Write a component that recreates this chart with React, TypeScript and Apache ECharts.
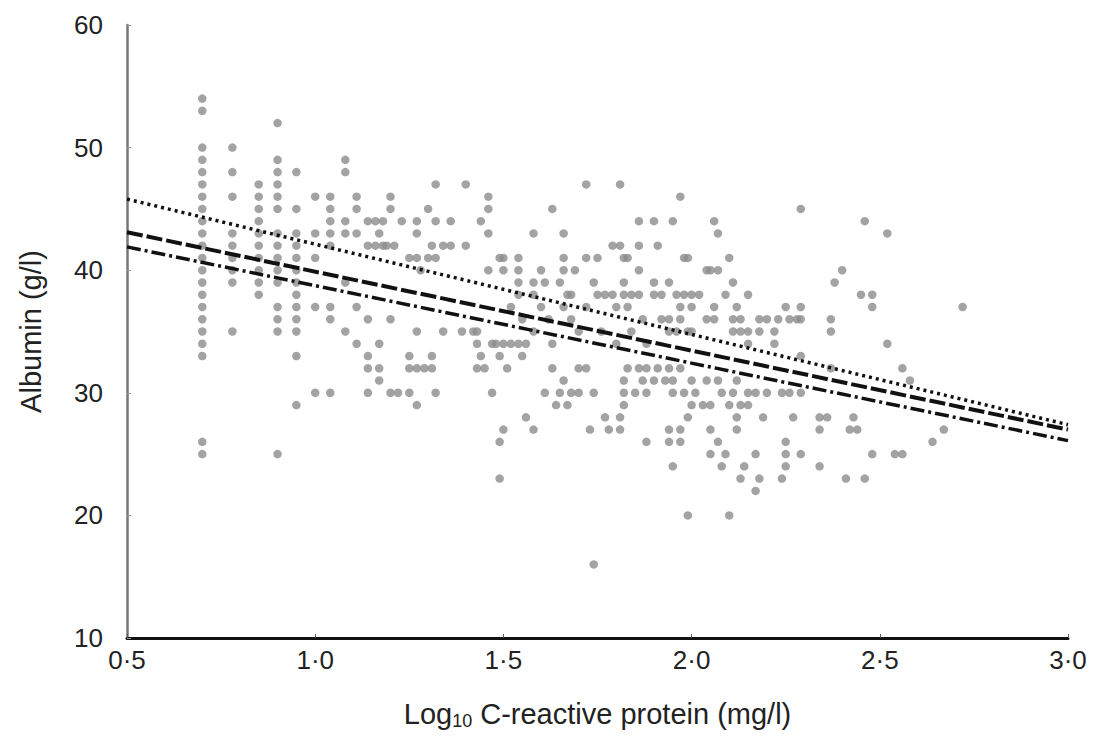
import React, { useEffect, useRef } from "react";
import * as echarts from "echarts";

// Log10 CRP values that form vertical columns at the low end
const discreteCrp = [0.7, 0.78, 0.85, 0.9, 0.95, 1.0, 1.04, 1.08];
const discreteAlbumin: number[][] = [
  [25, 26, 33, 34, 35, 36, 37, 38, 39, 40, 41, 42, 43, 44, 45, 46, 47, 48, 49, 50, 53, 54],
  [35, 39, 40, 41, 42, 43, 46, 48, 50],
  [38, 39, 40, 41, 42, 43, 44, 45, 46, 47],
  [25, 35, 36, 37, 39, 40, 41, 42, 43, 45, 46, 47, 48, 49, 52],
  [29, 33, 35, 36, 37, 38, 39, 40, 41, 42, 43, 45, 48],
  [30, 37, 41, 43, 46],
  [30, 36, 37, 42, 43, 44, 45, 46],
  [35, 39, 43, 44, 48, 49],
];

// Remaining points: [albumin, list of log10 CRP values]
const albuminRows: [number, number[]][] = [
  [47, [1.32, 1.4, 1.72, 1.81]],
  [46, [1.11, 1.2, 1.46, 1.97]],
  [45, [1.11, 1.2, 1.3, 1.46, 1.63, 2.29]],
  [44, [1.14, 1.16, 1.18, 1.23, 1.27, 1.32, 1.36, 1.44, 1.86, 1.9, 1.95, 2.06, 2.46]],
  [43, [1.11, 1.17, 1.27, 1.46, 1.58, 1.66, 2.07, 2.52]],
  [42, [1.14, 1.16, 1.18, 1.19, 1.21, 1.31, 1.34, 1.36, 1.4, 1.79, 1.81, 1.86, 1.91]],
  [41, [1.25, 1.27, 1.3, 1.32, 1.49, 1.5, 1.54, 1.66, 1.72, 1.75, 1.82, 1.83, 1.98, 1.99, 2.1]],
  [40, [1.28, 1.46, 1.5, 1.54, 1.6, 1.66, 1.69, 1.86, 2.04, 2.05, 2.07, 2.4]],
  [39, [1.54, 1.58, 1.61, 1.65, 1.74, 1.82, 1.9, 1.94, 2.11, 2.38]],
  [38, [1.54, 1.58, 1.67, 1.68, 1.75, 1.77, 1.79, 1.82, 1.84, 1.86, 1.9, 1.92, 1.96, 1.98, 2.0, 2.02, 2.09, 2.15, 2.45, 2.48]],
  [37, [1.11, 1.52, 1.6, 1.66, 1.72, 1.8, 1.83, 1.97, 2.0, 2.06, 2.12, 2.25, 2.29, 2.48, 2.72]],
  [36, [1.14, 1.2, 1.55, 1.62, 1.68, 1.87, 1.92, 1.94, 1.97, 2.04, 2.06, 2.11, 2.13, 2.18, 2.2, 2.23, 2.26, 2.28, 2.29, 2.37]],
  [35, [1.27, 1.34, 1.39, 1.42, 1.43, 1.58, 1.7, 1.76, 1.84, 1.94, 1.96, 1.99, 2.0, 2.11, 2.13, 2.15, 2.18, 2.22, 2.37]],
  [34, [1.11, 1.17, 1.43, 1.47, 1.48, 1.5, 1.52, 1.54, 1.56, 1.63, 1.8, 1.88, 2.15, 2.22, 2.52]],
  [33, [1.14, 1.25, 1.31, 1.44, 1.49, 1.55, 2.29]],
  [32, [1.14, 1.17, 1.25, 1.27, 1.29, 1.31, 1.43, 1.45, 1.51, 1.63, 1.7, 1.72, 1.83, 1.86, 1.88, 1.91, 1.94, 1.97, 2.37, 2.56]],
  [31, [1.17, 1.66, 1.82, 1.87, 1.9, 1.93, 1.95, 2.0, 2.04, 2.07, 2.12, 2.58]],
  [30, [1.14, 1.2, 1.22, 1.25, 1.32, 1.47, 1.61, 1.65, 1.68, 1.7, 1.74, 1.82, 1.85, 1.88, 1.95, 1.98, 2.01, 2.08, 2.11, 2.15, 2.17, 2.2, 2.24, 2.26, 2.29]],
  [29, [1.27, 1.64, 1.67, 1.82, 2.0, 2.03, 2.05, 2.1, 2.13, 2.15]],
  [28, [1.56, 1.77, 1.81, 1.99, 2.12, 2.19, 2.27, 2.34, 2.36, 2.43]],
  [27, [1.5, 1.58, 1.73, 1.78, 1.81, 1.94, 1.97, 2.05, 2.12, 2.34, 2.42, 2.44, 2.67]],
  [26, [1.49, 1.88, 1.94, 1.97, 2.07, 2.25, 2.64]],
  [25, [2.05, 2.09, 2.17, 2.25, 2.29, 2.48, 2.54, 2.56]],
  [24, [1.95, 2.08, 2.14, 2.25, 2.34]],
  [23, [1.49, 2.13, 2.18, 2.24, 2.41, 2.46]],
  [22, [2.17]],
  [20, [1.99, 2.1]],
  [16, [1.74]],
];

// Fitted curves (log10 CRP, albumin)
const fitDotted: [number, number][] = [[0.5, 45.8], [3.0, 27.4]];
const fitDashed: [number, number][] = [[0.5, 43.1], [3.0, 27.0]];
const fitDashDot: [number, number][] = [[0.5, 41.9], [3.0, 26.1]];

const xTicks = [0.5, 1.0, 1.5, 2.0, 2.5, 3.0];
const yTicks = [10, 20, 30, 40, 50, 60];

const FONT = "'Liberation Sans Narrow', 'Liberation Sans', Arial, sans-serif";

export default function App() {
  const ref = useRef<HTMLDivElement>(null);
  useEffect(() => {
    if (!ref.current) return;
    const chart = echarts.init(ref.current, undefined, { renderer: "svg" });
    const points: [number, number][] = [];
    discreteCrp.forEach((x, i) => discreteAlbumin[i].forEach((y) => points.push([x, y])));
    albuminRows.forEach(([y, xs]) => xs.forEach((x) => points.push([x, y])));

    const fmt = (v: number) => v.toFixed(1).replace(".", "\u00b7");

    chart.setOption({
      animation: false,
      backgroundColor: "#ffffff",
      grid: { left: 127, right: 27, top: 25, bottom: 100, containLabel: false },
      xAxis: {
        type: "value",
        min: xTicks[0],
        max: xTicks[xTicks.length - 1],
        interval: 0.5,
        splitLine: { show: false },
        axisLine: { onZero: false, lineStyle: { color: "#111", width: 3 } },
        axisTick: { inside: true, length: 4, lineStyle: { color: "#555", width: 1 } },
        axisLabel: {
          formatter: fmt,
          color: "#222",
          fontSize: 26,
          fontFamily: FONT,
          margin: 9,
        },
        name: "Log{sub|10} C-reactive protein (mg/l)",
        nameLocation: "middle",
        nameGap: 60,
        nameTextStyle: {
          color: "#222",
          fontSize: 29,
          fontFamily: FONT,
          rich: {
            sub: { fontSize: 18, fontFamily: FONT, color: "#222", verticalAlign: "bottom", padding: [14, 0, 0, 0] },
          },
        },
      },
      yAxis: {
        type: "value",
        min: yTicks[0],
        max: yTicks[yTicks.length - 1],
        interval: 10,
        splitLine: { show: false },
        axisLine: { onZero: false, lineStyle: { color: "#777", width: 2.5 } },
        axisTick: { show: true, inside: true, length: 4, lineStyle: { color: "#999", width: 1 } },
        axisLabel: { color: "#222", fontSize: 26, fontFamily: FONT, margin: 24 },
        name: "Albumin (g/l)",
        nameLocation: "middle",
        nameGap: 82,
        nameTextStyle: { color: "#222", fontSize: 29, fontFamily: FONT },
      },
      series: [
        {
          type: "scatter",
          data: points,
          symbol: "circle",
          symbolSize: 8.5,
          itemStyle: { color: "#8c8c8c" },
          z: 2,
        },
        {
          type: "line",
          data: fitDotted,
          showSymbol: false,
          lineStyle: { color: "#111", width: 3.5, type: [3, 4] },
          z: 5,
        },
        {
          type: "line",
          data: fitDashed,
          showSymbol: false,
          lineStyle: { color: "#111", width: 4, type: [16, 4] },
          z: 5,
        },
        {
          type: "line",
          data: fitDashDot,
          showSymbol: false,
          lineStyle: { color: "#111", width: 3.5, type: [14, 4, 3, 4] },
          z: 5,
        },
      ],
    });
    return () => chart.dispose();
  }, []);
  return (
    <div
      ref={ref}
      style={{ position: "fixed", left: 0, top: 0, width: 1095, height: 738 }}
    />
  );
}
